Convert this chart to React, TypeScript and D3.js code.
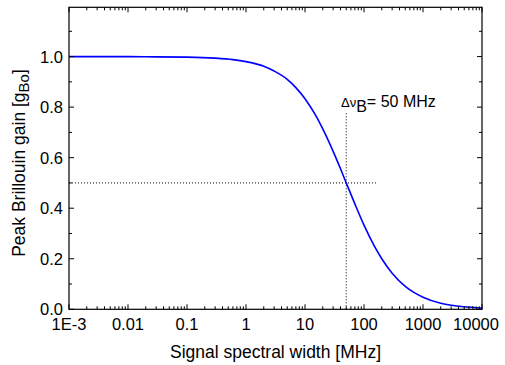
import React from "react";
import * as d3 from "d3";

const widthMHz = [0.001, 0.003, 0.01, 0.03, 0.1, 0.3, 0.6, 1, 2, 3, 5, 7, 10, 15, 20, 30, 40, 50, 70, 100, 150, 200, 300, 500, 700, 1000, 2000, 3000, 5000, 10000];
const peakGain = [1.0, 1.0, 1.0, 0.999, 0.998, 0.994, 0.988, 0.98, 0.962, 0.943, 0.91, 0.877, 0.833, 0.769, 0.714, 0.625, 0.556, 0.5, 0.417, 0.333, 0.25, 0.2, 0.143, 0.091, 0.067, 0.048, 0.024, 0.016, 0.01, 0.005];
const xTickValues = [0.001, 0.01, 0.1, 1, 10, 100, 1000, 10000];
const xTickLabels = ["1E-3", "0.01", "0.1", "1", "10", "100", "1000", "10000"];
const yTickValues = [0, 0.2, 0.4, 0.6, 0.8, 1.0];
const yTickLabels = ["0.0", "0.2", "0.4", "0.6", "0.8", "1.0"];
const linewidthB = 50;
const hLineEnd = 170;
const vLineTop = 0.78;

const FONT = "'Liberation Sans', Arial, Helvetica, sans-serif";

export default function App() {
  const left = 69, right = 482, top = 7.3, bottom = 309.3;
  const x = d3.scaleLog().domain([0.001, 10000]).range([left, right]);
  const y = d3.scaleLinear().domain([0, 1.195]).range([bottom, top]);

  const pts = widthMHz.map((w, i) => [w, peakGain[i]] as [number, number]);
  const line = d3.line<[number, number]>().x(d => x(d[0])).y(d => y(d[1])).curve(d3.curveMonotoneX);

  const minorX: number[] = [];
  for (let e = -3; e < 4; e++) {
    for (let k = 2; k <= 9; k++) minorX.push(k * Math.pow(10, e));
  }
  const minorY = [0.1, 0.3, 0.5, 0.7, 0.9, 1.1];

  return (
    <svg width={505} height={365} style={{ position: "absolute", left: 0, top: 0, background: "#fff" }} fontFamily={FONT}>
      <rect x={0} y={0} width={505} height={365} fill="#fff" />
      {/* dotted guides */}
      <line x1={x(0.001)} x2={x(hLineEnd)} y1={y(0.5)} y2={y(0.5)} stroke="#000" strokeWidth={1} strokeDasharray="1,2" />
      <line x1={x(linewidthB)} x2={x(linewidthB)} y1={y(0)} y2={y(vLineTop)} stroke="#000" strokeWidth={1} strokeDasharray="1,2" />
      {/* curve */}
      <path d={line(pts) || ""} fill="none" stroke="#0000ff" strokeWidth={1.6} />
      {/* frame */}
      <rect x={left} y={top} width={right - left} height={bottom - top} fill="none" stroke="#000" strokeWidth={1.2} />
      {/* x ticks */}
      {xTickValues.map((v, i) => (
        <g key={"xt" + i}>
          <line x1={x(v)} x2={x(v)} y1={bottom} y2={bottom - 5} stroke="#000" />
          <line x1={x(v)} x2={x(v)} y1={top} y2={top + 5} stroke="#000" />
          <text x={x(v) + (i === xTickValues.length - 1 ? -6 : 0)} y={330} textAnchor="middle" fontSize={16.5}>{xTickLabels[i]}</text>
        </g>
      ))}
      {minorX.map((v, i) => (
        <g key={"xm" + i}>
          <line x1={x(v)} x2={x(v)} y1={bottom} y2={bottom - 3} stroke="#000" />
          <line x1={x(v)} x2={x(v)} y1={top} y2={top + 3} stroke="#000" />
        </g>
      ))}
      {/* y ticks */}
      {yTickValues.map((v, i) => (
        <g key={"yt" + i}>
          <line x1={left} x2={left + 5} y1={y(v)} y2={y(v)} stroke="#000" />
          <line x1={right} x2={right - 5} y1={y(v)} y2={y(v)} stroke="#000" />
          <text x={63} y={y(v)} dy="0.36em" textAnchor="end" fontSize={16.5}>{yTickLabels[i]}</text>
        </g>
      ))}
      {minorY.map((v, i) => (
        <g key={"ym" + i}>
          <line x1={left} x2={left + 3} y1={y(v)} y2={y(v)} stroke="#000" />
          <line x1={right} x2={right - 3} y1={y(v)} y2={y(v)} stroke="#000" />
        </g>
      ))}
      {/* axis titles */}
      <text x={(left + right) / 2} y={358} textAnchor="middle" fontSize={17.5}>Signal spectral width [MHz]</text>
      <text transform={`translate(25,163) rotate(-90)`} textAnchor="middle" fontSize={17.5}>
        Peak Brillouin gain [g<tspan fontSize={15} dy={4}>Bo</tspan><tspan dy={-4}>]</tspan>
      </text>
      {/* annotation */}
      <text x={341} y={107} fontSize={16}>
        <tspan fontSize={13}>Δν</tspan><tspan dy={5}>B</tspan><tspan dy={-5}>= 50 MHz</tspan>
      </text>
    </svg>
  );
}
